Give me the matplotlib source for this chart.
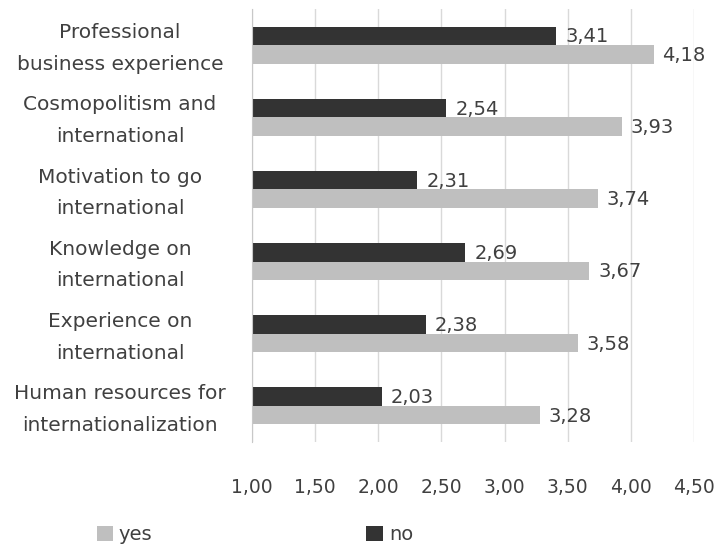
import matplotlib.pyplot as plt
import matplotlib.transforms as mtransforms
import numpy as np

plt.rcParams['font.family'] = ['DejaVu Sans']

categories = ["Professional\nbusiness experience", "Cosmopolitism and\ninternational",
              "Motivation to go\ninternational", "Knowledge on\ninternational",
              "Experience on\ninternational", "Human resources for\ninternationalization"]
no_vals = [3.41, 2.54, 2.31, 2.69, 2.38, 2.03]
yes_vals = [4.18, 3.93, 3.74, 3.67, 3.58, 3.28]
xticks = [1.0, 1.5, 2.0, 2.5, 3.0, 3.5, 4.0, 4.5]

dark = '#333333'
light = '#bfbfbf'
text_col = '#404040'

fig = plt.figure(figsize=(7.19, 5.47), dpi=100)
ax = fig.add_axes([0.3505, 0.192, 0.6147, 0.7915])

y = np.arange(len(categories))
h = 0.257
ax.barh(y - h / 2, no_vals, height=h, color=dark, label='no', zorder=2)
ax.barh(y + h / 2, yes_vals, height=h, color=light, label='yes', zorder=2)

for yi, v in zip(y - h / 2, no_vals):
    ax.text(v + 0.07, yi + 0.015, f"{v:.2f}".replace('.', ','), va='center', ha='left',
            fontsize=14, color=text_col)
for yi, v in zip(y + h / 2, yes_vals):
    ax.text(v + 0.07, yi + 0.015, f"{v:.2f}".replace('.', ','), va='center', ha='left',
            fontsize=14, color=text_col)

ax.set_xlim(1.0, 4.5)
ax.set_ylim(len(categories) - 0.5, -0.5)
ax.set_xticks(xticks)
ax.set_xticklabels([f"{t:.2f}".replace('.', ',') for t in xticks])
ax.set_yticks(y)
ax.set_yticklabels(categories, ha='center', va='center', linespacing=1.85)
ax.tick_params(axis='y', length=0, pad=95, labelsize=14.5, labelcolor=text_col)
ax.tick_params(axis='x', length=0, pad=26, labelsize=13.5, labelcolor=text_col)
# nudge the category labels down a little
shift = mtransforms.ScaledTranslation(0, -2.5 / 72, fig.dpi_scale_trans)
for lbl in ax.get_yticklabels():
    lbl.set_transform(lbl.get_transform() + shift)
ax.grid(axis='x', color='#d9d9d9', linewidth=1, zorder=0)
for s in ['top', 'right', 'bottom']:
    ax.spines[s].set_visible(False)
ax.spines['left'].set_color('#c8c8c8')

handles, labels = ax.get_legend_handles_labels()
fig.legend(handles[::-1], labels[::-1], loc='center left', bbox_to_anchor=(0.11, 0.022),
           ncol=2, frameon=False, fontsize=14, handlelength=0.85, handleheight=0.85,
           handletextpad=0.3, columnspacing=11.0, labelcolor=text_col)

fig.savefig('out.png', dpi=100)
